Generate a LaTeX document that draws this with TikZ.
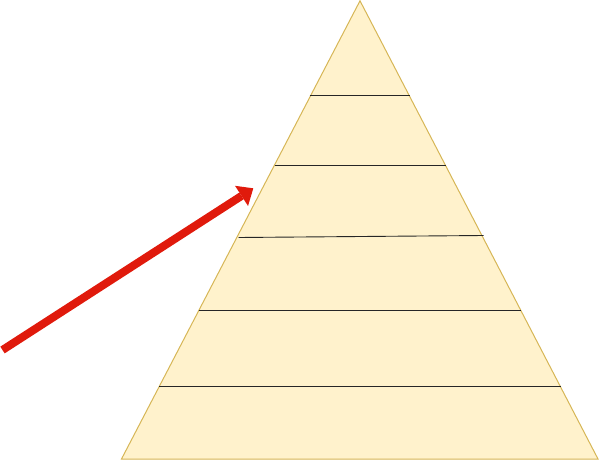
\documentclass[tikz,border=0pt]{standalone}
\usetikzlibrary{arrows.meta}
\definecolor{pyrfill}{HTML}{FFF2CC}
\definecolor{pyrdraw}{HTML}{D6B656}
\definecolor{arrred}{HTML}{E01A0C}
\tikzset{
  pyramid/.style={fill=pyrfill, draw=pyrdraw, line width=1pt, line join=miter},
  tier/.style={draw=black!85, line width=0.9pt},
  bigarrow/.style={draw=arrred, line width=8pt,
    -{Triangle[length=14pt,width=24pt,line width=0pt]}}
}
\begin{document}
\begin{tikzpicture}[x=1pt,y=-1pt]
  \useasboundingbox (0,0) rectangle (600,460);
  % pyramid corners
  \coordinate (apex) at (360,0.8);
  \coordinate (bl) at (121.5,459);
  \coordinate (br) at (598,459);
  \path[pyramid] (apex) -- (br) -- (bl) -- cycle;
  % tier lines
  \coordinate (l1a) at (309.5,95.5);  \coordinate (l1b) at (409.5,95.5);
  \coordinate (l2a) at (274.5,165.5); \coordinate (l2b) at (445.5,165.5);
  \coordinate (l3a) at (238.5,237.5); \coordinate (l3b) at (483.5,235.5);
  \coordinate (l4a) at (198.5,310.5); \coordinate (l4b) at (521,310.5);
  \coordinate (l5a) at (159,386.5);   \coordinate (l5b) at (560.5,386.5);
  \draw[tier] (l1a) -- (l1b);
  \draw[tier] (l2a) -- (l2b);
  \draw[tier] (l3a) -- (l3b);
  \draw[tier] (l4a) -- (l4b);
  \draw[tier] (l5a) -- (l5b);
  % arrow
  \coordinate (tail) at (2.5,350);
  \coordinate (tip) at (253.3,188.3);
  \draw[bigarrow] (tail) -- (tip);
\end{tikzpicture}
\end{document}
